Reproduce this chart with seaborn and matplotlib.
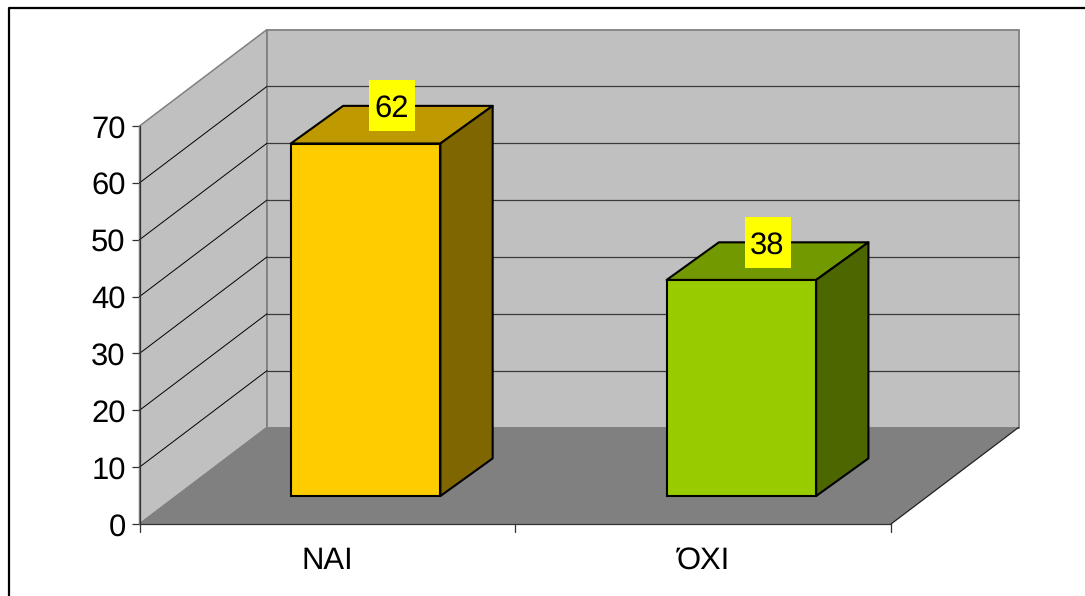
import matplotlib
matplotlib.use("Agg")
import matplotlib.pyplot as plt
from matplotlib.lines import Line2D
from matplotlib.patches import Polygon, Rectangle
from matplotlib.transforms import Affine2D
import pandas as pd
import seaborn as sns

categories = ["ΝΑΙ", "ΌΧΙ"]
values = [62, 38]
y_ticks = [0, 10, 20, 30, 40, 50, 60, 70]
front_colors = ["#FFCC00", "#99CC00"]
top_colors = ["#BF9900", "#739900"]
side_colors = ["#7F6600", "#4C6600"]

sns.set_theme(style="white")
plt.rcParams["font.family"] = ["Liberation Sans", "DejaVu Sans"]
plt.rcParams["text.hinting"] = "no_hinting"
plt.rcParams["text.hinting_factor"] = 1

W, H = 1085, 596
FONT_SIZE = 22.5
fig = plt.figure(figsize=(W / 100, H / 100), dpi=100, facecolor="white")
ax = fig.add_axes([139.5 / W, 1 - 524 / H, 751.5 / W, 398 / H])
ax.patch.set_alpha(0)

df = pd.DataFrame({"answer": categories, "count": values})
sns.barplot(
    data=df, x="answer", y="count", hue="answer", palette=front_colors, saturation=1,
    width=0.398, edgecolor="black", linewidth=1.5, legend=False, ax=ax, zorder=4,
)
ax.set_xlim(-0.5, 1.5)
ax.set_ylim(0, 70)

# Oblique projection: one unit of depth shifts a point right and up in data units
SHEAR_X = 127.5 / 375.75
SHEAR_Y = 96.5 / (398 / 70)
BAR_FRONT_X, BAR_FRONT_Y = 0.30, 0.29
BAR_BACK_X, BAR_BACK_Y = 0.71, 0.68
LABEL_W, LABEL_H = 46 / 375.75, 51 / (398 / 70)


def proj(x, y, depth=0.0):
    return (x + SHEAR_X * depth, y + SHEAR_Y * depth)


def bar_front(x, y):
    return (x + SHEAR_X * BAR_FRONT_X, y + SHEAR_Y * BAR_FRONT_Y)


def bar_back(x, y):
    return (x + SHEAR_X * BAR_BACK_X, y + SHEAR_Y * BAR_BACK_Y)


def face(points, **kw):
    ax.add_patch(Polygon(points, closed=True, clip_on=False, **kw))


x0, x1 = ax.get_xlim()
y0, y1 = ax.get_ylim()
WALL = "#C0C0C0"
EDGE = "#808080"

# Side wall, back wall and floor of the box
face([proj(x0, y0), proj(x0, y0, 1), proj(x0, y1, 1), proj(x0, y1)],
     facecolor=WALL, edgecolor=EDGE, linewidth=1.1, zorder=1)
face([proj(x0, y0, 1), proj(x1, y0, 1), proj(x1, y1, 1), proj(x0, y1, 1)],
     facecolor=WALL, edgecolor=EDGE, linewidth=1.3, zorder=1)
face([proj(x0, y0), proj(x1, y0), proj(x1, y0, 1), proj(x0, y0, 1)],
     facecolor="#808080", edgecolor="none", zorder=2)
ax.plot(*zip(proj(x0, y0), proj(x0, y0, 1)), color=EDGE, lw=1.0, zorder=2.1, clip_on=False)
ax.plot(*zip(proj(x1, y0), proj(x1, y0, 1)), color="#222222", lw=0.9, zorder=2.1, clip_on=False)

# Gridlines run along the side wall and across the back wall
for v in y_ticks[1:-1]:
    ax.plot(*zip(proj(x0, v), proj(x0, v, 1)), color="black", lw=0.7, zorder=1.5, clip_on=False)
    ax.plot(*zip(proj(x0, v, 1), proj(x1, v, 1)), color="#3a3a3a", lw=0.9, zorder=1.5, clip_on=False)

# Shift each front face into the box, then add its top and side faces
front_shift = Affine2D().translate(SHEAR_X * BAR_FRONT_X, SHEAR_Y * BAR_FRONT_Y)
for i, bar in enumerate(ax.patches[:len(categories)]):
    bar.set_transform(front_shift + ax.transData)
    bar.set_clip_on(False)
    left, right = bar.get_x(), bar.get_x() + bar.get_width()
    top = bar.get_height()
    face([bar_front(left, top), bar_front(right, top), bar_back(right, top), bar_back(left, top)],
         facecolor=top_colors[i], edgecolor="black", linewidth=1.5, joinstyle="round", zorder=3.5)
    face([bar_front(right, 0), bar_back(right, 0), bar_back(right, top), bar_front(right, top)],
         facecolor=side_colors[i], edgecolor="black", linewidth=1.5, joinstyle="round", zorder=3.5)

    # Value label on a yellow plate, centred over the top face's back edge
    label_x = (bar_front(left, top)[0] + bar_back(right, top)[0]) / 2
    label_y = bar_back(left, top)[1]
    ax.add_patch(Rectangle((label_x - LABEL_W / 2, label_y - LABEL_H / 2), LABEL_W, LABEL_H,
                           facecolor="#FFFF00", edgecolor="none", clip_on=False, zorder=5))
    ax.text(label_x, label_y, str(values[i]), ha="center", va="center_baseline",
            fontsize=FONT_SIZE, color="black", zorder=6, clip_on=False)

# Axis lines and ticks on the front plane
for name in ("top", "right"):
    ax.spines[name].set_visible(False)
for name in ("left", "bottom"):
    ax.spines[name].set_color("#333333")
    ax.spines[name].set_linewidth(0.9)
    ax.spines[name].set_zorder(3)
ax.set_xticks([x0, 0, 0.5, 1, x1])
ax.set_xticklabels(["", categories[0], "", categories[1], ""])
ax.set_yticks(y_ticks)
ax.set_xlabel("")
ax.set_ylabel("")
ax.tick_params(axis="y", left=True, length=6, width=0.9, color="#333333",
               labelsize=FONT_SIZE, labelcolor="black", pad=4)
ax.tick_params(axis="x", bottom=False, labelsize=FONT_SIZE, labelcolor="black", pad=10)
for x in (x0, 0.5, x1):
    ax.plot([x, x], [0, -1.4], color="#333333", lw=0.9, clip_on=False, zorder=3)

# Outer frame, open towards the right and bottom edges of the image
fig.add_artist(Line2D([9 / W, 9 / W, 1], [0, 1 - 8 / H, 1 - 8 / H], color="black", lw=1.6))

fig.savefig("out.png", dpi=100, facecolor="white")
